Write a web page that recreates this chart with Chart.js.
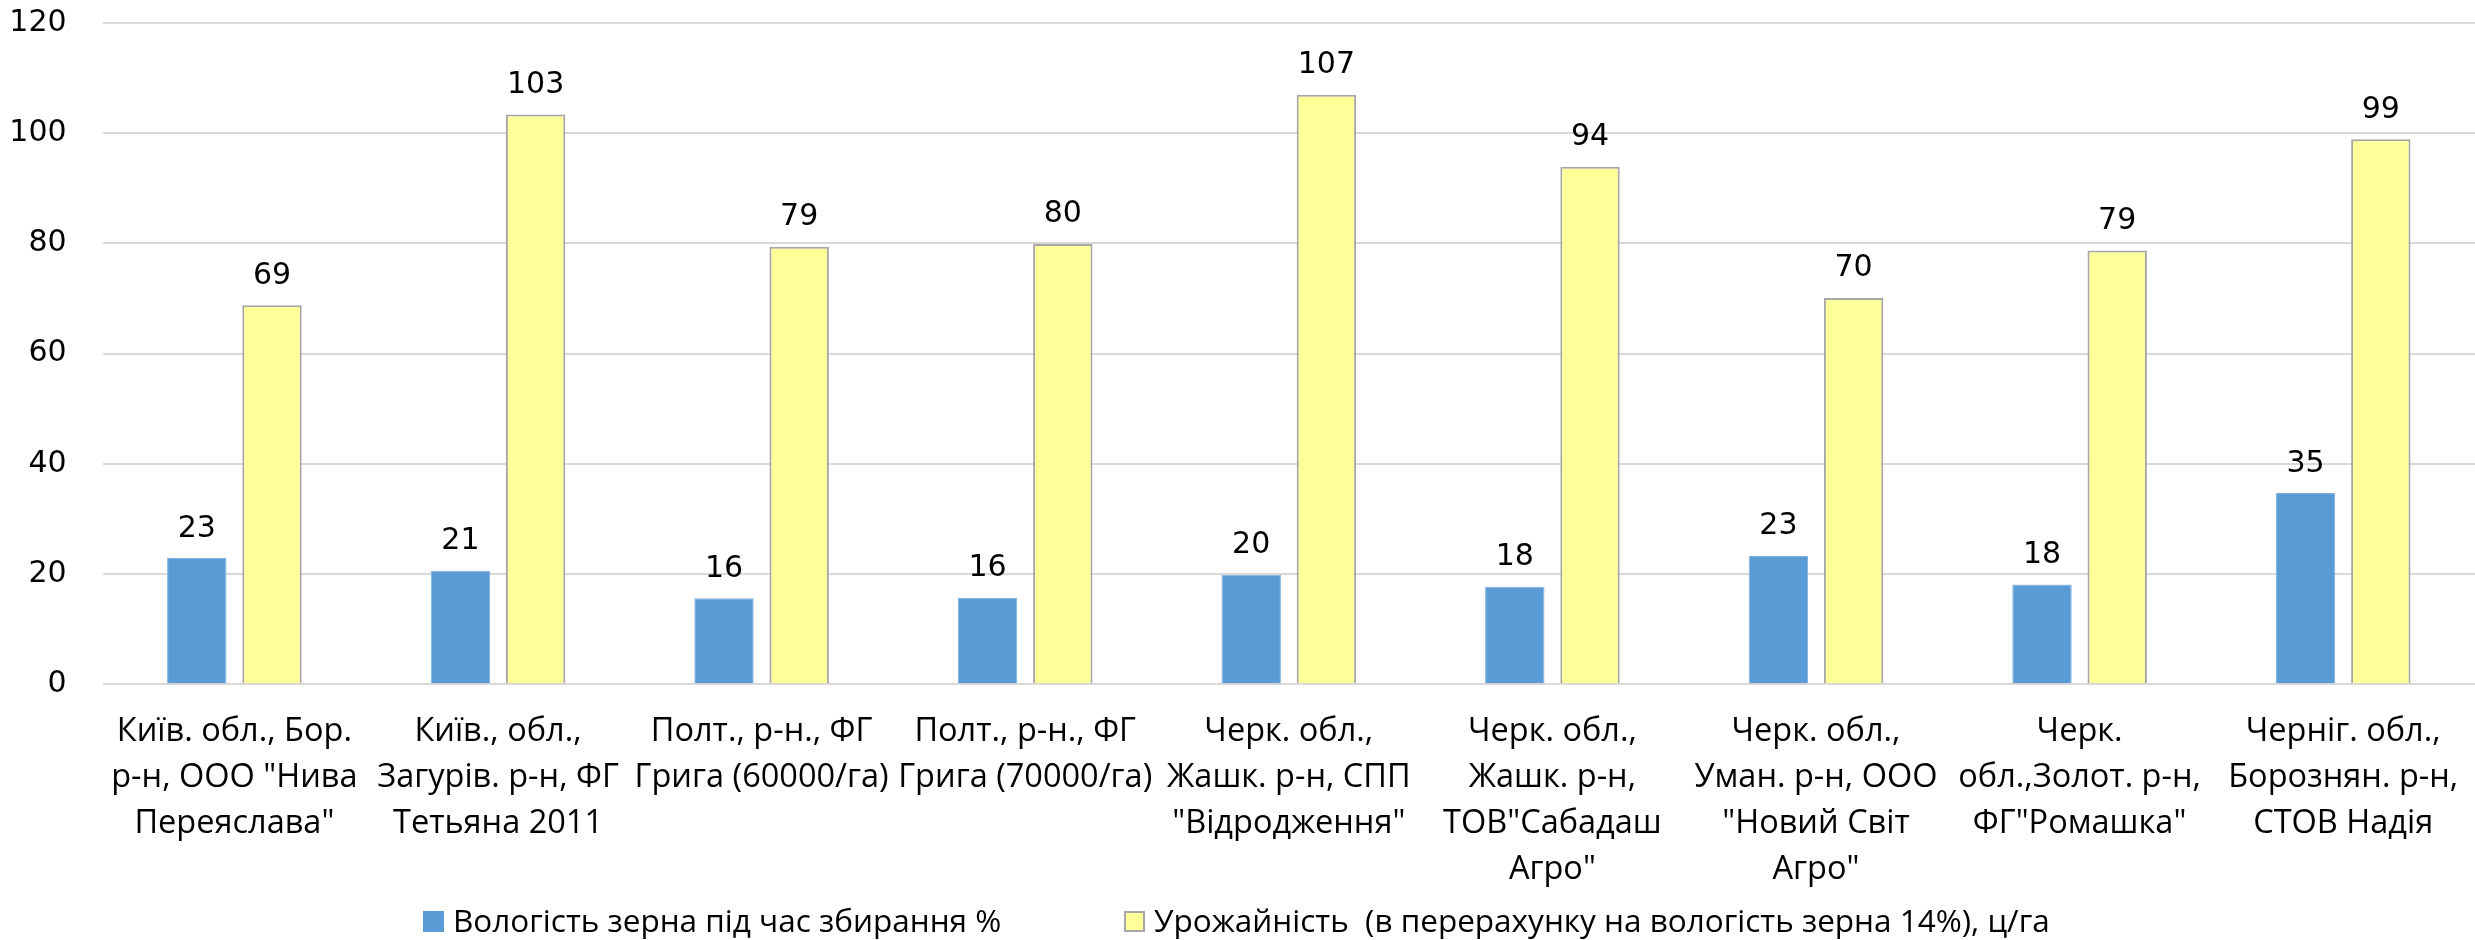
<!DOCTYPE html>
<html>
<head>
<meta charset="utf-8">
<script src="https://cdn.jsdelivr.net/npm/chart.js@4.4.0/dist/chart.umd.min.js"></script>
<style>
html,body{margin:0;padding:0;background:#ffffff;}
#wrap{width:2475px;height:940px;}
</style>
</head>
<body>
<div id="wrap"><canvas id="c" width="2475" height="940"></canvas></div>
<script>
// ---- data ----
const categories = [
  ['Київ. обл., Бор.', 'р-н, ООО "Нива', 'Переяслава"'],
  ['Київ., обл.,', 'Загурів. р-н, ФГ', 'Тетьяна 2011'],
  ['Полт., р-н., ФГ', 'Грига (60000/га)'],
  ['Полт., р-н., ФГ', 'Грига (70000/га)'],
  ['Черк. обл.,', 'Жашк. р-н, СПП', '"Відродження"'],
  ['Черк. обл.,', 'Жашк. р-н,', 'ТОВ"Сабадаш', 'Агро"'],
  ['Черк. обл.,', 'Уман. р-н, ООО', '"Новий Світ', 'Агро"'],
  ['Черк.', 'обл.,Золот. р-н,', 'ФГ"Ромашка"'],
  ['Черніг. обл.,', 'Борознян. р-н,', 'СТОВ Надія']
];
const moisture = [22.9, 20.6, 15.6, 15.7, 19.9, 17.7, 23.3, 18.1, 34.7];
const yieldValues = [68.8, 103.4, 79.4, 79.9, 107.0, 93.9, 70.1, 78.7, 98.9];
const seriesNames = [
  'Вологість зерна під час збирання %',
  'Урожайність  (в перерахунку на вологість зерна 14%), ц/га'
];
const yMin = 0, yMax = 120, yStep = 20;

// ---- styles ----
const LABEL_FONT = '"Open Sans", Roboto, "Noto Sans", "DejaVu Sans", sans-serif';
const NUM_FONT = '"DejaVu Sans", Verdana, sans-serif';

const valueLabels = {
  id: 'valueLabels',
  afterDatasetsDraw(chart) {
    const ctx = chart.ctx;
    ctx.save();
    ctx.font = '30px ' + NUM_FONT;
    ctx.fillStyle = '#000000';
    ctx.textAlign = 'center';
    ctx.textBaseline = 'alphabetic';
    chart.data.datasets.forEach((ds, i) => {
      chart.getDatasetMeta(i).data.forEach((bar, j) => {
        ctx.fillText(String(Math.round(ds.data[j])), bar.x, bar.y - 21.5);
      });
    });
    ctx.restore();
  }
};

const customLegend = {
  id: 'customLegend',
  afterDraw(chart, args, opts) {
    const ctx = chart.ctx;
    ctx.save();
    ctx.font = opts.font;
    ctx.textAlign = 'left';
    ctx.textBaseline = 'alphabetic';
    chart.data.datasets.forEach((ds, i) => {
      const x = opts.positions[i];
      const s = opts.boxSize;
      ctx.fillStyle = ds.backgroundColor;
      ctx.fillRect(x, opts.baseline - s, s, s);
      if (ds.legendBorder) {
        ctx.strokeStyle = ds.legendBorder;
        ctx.lineWidth = 2;
        ctx.strokeRect(x + 1, opts.baseline - s + 1, s - 2, s - 2);
      }
      ctx.fillStyle = '#000000';
      ctx.fillText(ds.label, x + s + opts.gap, opts.baseline);
    });
    ctx.restore();
  }
};

new Chart(document.getElementById('c'), {
  type: 'bar',
  data: {
    labels: categories,
    datasets: [
      {
        label: seriesNames[0],
        data: moisture,
        backgroundColor: '#5B9BD5',
        borderColor: '#7fb0de',
        borderWidth: 1,
        categoryPercentage: 0.5706,
        barPercentage: 0.79
      },
      {
        label: seriesNames[1],
        data: yieldValues,
        backgroundColor: '#FFFF99',
        borderColor: '#A6A6A6',
        borderWidth: 2,
        legendBorder: '#A6A6A6',
        categoryPercentage: 0.5706,
        barPercentage: 0.79
      }
    ]
  },
  options: {
    responsive: false,
    animation: false,
    devicePixelRatio: 1,
    layout: { padding: { top: 23, left: 0, right: 0, bottom: 0 } },
    plugins: {
      legend: { display: false },
      tooltip: { enabled: false },
      customLegend: {
        font: '31.5px ' + LABEL_FONT,
        positions: [423, 1124],
        boxSize: 21,
        gap: 9,
        baseline: 932
      }
    },
    scales: {
      x: {
        grid: { display: false, drawTicks: false },
        border: { display: false },
        ticks: {
          color: '#000000',
          font: { family: LABEL_FONT, size: 32.5, lineHeight: '45.7px' },
          padding: 25,
          autoSkip: false,
          maxRotation: 0,
          minRotation: 0
        },
        afterFit(scale) {
          scale.height = 940 - 684.3;
          scale.paddingLeft = 0;
          scale.paddingRight = 0;
        }
      },
      y: {
        min: yMin,
        max: yMax,
        grid: { color: '#D9D9D9', lineWidth: 2, drawTicks: false },
        border: { display: false },
        ticks: {
          stepSize: yStep,
          color: '#000000',
          font: { family: NUM_FONT, size: 30 },
          padding: 36
        },
        afterFit(scale) {
          scale.width = 102.6;
          scale.paddingTop = 0;
          scale.paddingBottom = 0;
        }
      }
    }
  },
  plugins: [valueLabels, customLegend]
});
</script>
</body>
</html>
